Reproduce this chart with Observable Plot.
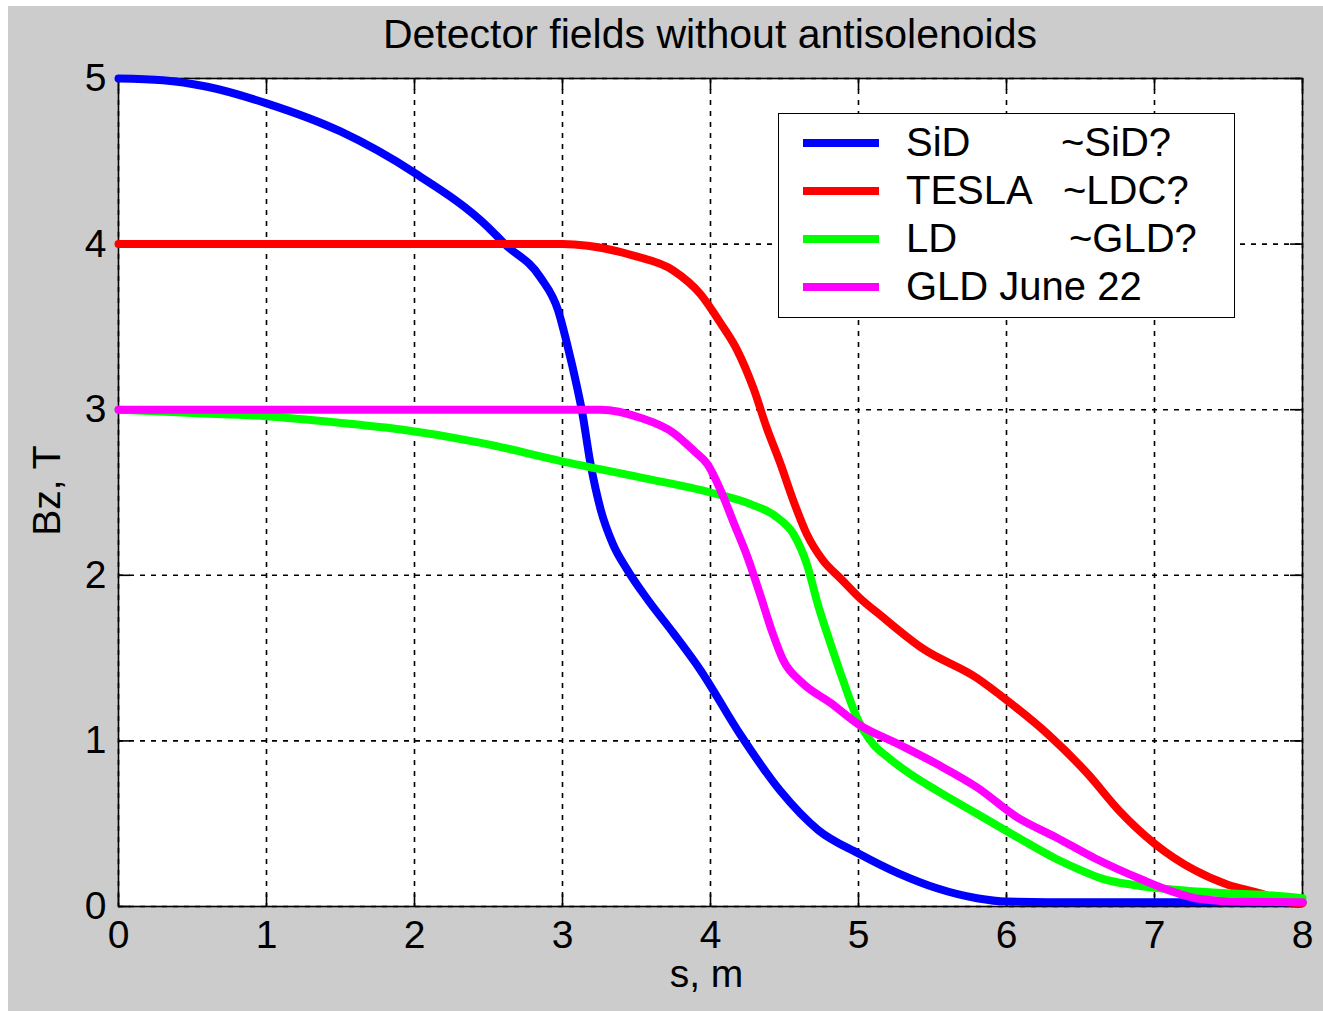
<!DOCTYPE html>
<html>
<head>
<meta charset="utf-8">
<script src="https://cdn.jsdelivr.net/npm/d3@7"></script>
<script src="https://cdn.jsdelivr.net/npm/@observablehq/plot@0.6"></script>
<style>
  body { margin: 0; background: #fff; font-family: "Liberation Sans", Arial, sans-serif; }
  #page { position: relative; width: 1323px; height: 1011px; overflow: hidden; background: #fff; }
  #bg { position: absolute; left: 8px; top: 6px; width: 1315px; height: 1005px; background: #cccccc; }
  #title { position: absolute; left: 118px; width: 1184px; top: 14px; text-align: center;
           font-size: 41px; line-height: 41px; color: #000; white-space: nowrap; }
  #chart { position: absolute; left: 0; top: 60px; }
  #legend { position: absolute; left: 778px; top: 113px; width: 455px; height: 203px;
            border: 1.5px solid #000; background: #fff; }
  .sw { position: absolute; left: 24px; width: 76px; height: 8px; }
  .lt { position: absolute; font-size: 40px; line-height: 40px; color: #000; white-space: nowrap; }
</style>
</head>
<body>
<div id="page">
  <div id="bg"></div>
  <div id="title"></div>
  <div id="chart"></div>
  <div id="legend"></div>
</div>
<script>
// ---- data ----
const titleText = "Detector fields without antisolenoids";
const xLabel = "s, m";
const yLabel = "Bz, T";
const xTicks = [0, 1, 2, 3, 4, 5, 6, 7, 8];
const yTicks = [0, 1, 2, 3, 4, 5];

const seriesNames = ["SiD", "TESLA", "LD", "GLD June 22"];
const seriesTags = ["~SiD?", "~LDC?", "~GLD?", ""];
const seriesColors = ["#0000ff", "#ff0000", "#00ff00", "#ff00ff"];

const sidS = [0, 0.3, 0.6, 1.0, 1.5, 2.0, 2.5, 2.61, 2.85, 2.97, 3.03, 3.10, 3.13, 3.19, 3.26, 3.34, 3.44, 3.57, 3.75, 3.93, 4.2, 4.47, 4.73, 5.0, 5.27, 5.53, 5.8, 6.0, 6.5, 7.0, 7.5, 8.0];
const sidB = [5.0, 4.99, 4.95, 4.85, 4.68, 4.43, 4.10, 4.0, 3.80, 3.6, 3.40, 3.13, 3.0, 2.67, 2.39, 2.19, 2.03, 1.86, 1.65, 1.43, 1.04, 0.70, 0.46, 0.32, 0.20, 0.11, 0.05, 0.03, 0.025, 0.025, 0.025, 0.025];

const teslaS = [0, 1, 2, 2.5, 3.0, 3.17, 3.48, 3.75, 3.93, 4.07, 4.18, 4.29, 4.38, 4.47, 4.56, 4.65, 4.76, 4.88, 5.0, 5.16, 5.43, 5.80, 6.01, 6.28, 6.55, 6.76, 7.0, 7.27, 7.5, 7.72, 7.87, 8.0];
const teslaB = [4.0, 4.0, 4.0, 4.0, 4.0, 3.99, 3.93, 3.84, 3.70, 3.52, 3.36, 3.13, 2.89, 2.68, 2.45, 2.25, 2.09, 1.98, 1.87, 1.75, 1.56, 1.38, 1.24, 1.04, 0.80, 0.58, 0.38, 0.22, 0.13, 0.078, 0.03, 0.02];

const ldS = [0, 0.5, 1.0, 1.5, 1.91, 2.45, 2.99, 3.53, 4.0, 4.27, 4.45, 4.56, 4.65, 4.73, 4.81, 4.89, 5.0, 5.1, 5.2, 5.35, 5.53, 5.80, 6.07, 6.33, 6.5, 6.64, 6.86, 7.20, 7.53, 7.80, 8.0];
const ldB = [3.0, 2.98, 2.96, 2.92, 2.88, 2.80, 2.69, 2.59, 2.50, 2.43, 2.35, 2.25, 2.07, 1.81, 1.59, 1.38, 1.12, 0.98, 0.90, 0.80, 0.70, 0.56, 0.42, 0.29, 0.22, 0.17, 0.13, 0.097, 0.078, 0.066, 0.05];

const gldS = [0, 1, 2, 2.58, 3.26, 3.53, 3.75, 3.89, 3.98, 4.07, 4.16, 4.25, 4.34, 4.42, 4.49, 4.62, 4.81, 5.0, 5.27, 5.53, 5.80, 6.07, 6.33, 6.60, 6.93, 7.09, 7.31, 7.6, 8.0];
const gldB = [3.0, 3.0, 3.0, 3.0, 3.0, 2.95, 2.86, 2.75, 2.67, 2.51, 2.31, 2.11, 1.87, 1.65, 1.49, 1.35, 1.23, 1.10, 0.98, 0.86, 0.72, 0.54, 0.42, 0.29, 0.157, 0.10, 0.045, 0.028, 0.025];

// ---- build ----
const toRows = (s, b) => s.map((v, i) => ({s: v, B: b[i]}));
const series = [toRows(sidS, sidB), toRows(teslaS, teslaB), toRows(ldS, ldB), toRows(gldS, gldB)];

document.getElementById("title").textContent = titleText;

const W = 1323, H = 951;
const mL = 118, mR = 21, mT = 18, mB = 105;
const plotW = W - mL - mR, plotH = H - mT - mB;
const tickLen = 12;
const gridStyle = {stroke: "#000", strokeOpacity: 1, strokeWidth: 1.6, strokeDasharray: "5,6"};
const tickStyle = {stroke: "#000", strokeWidth: 1.6};
const fmt = d => String(d);

const chart = Plot.plot({
  width: W, height: H,
  marginLeft: mL, marginRight: mR, marginTop: mT, marginBottom: mB,
  style: {background: "transparent", fontFamily: "'Liberation Sans', Arial, sans-serif", fontSize: "39px", color: "#000", overflow: "visible"},
  x: {domain: [0, 8]},
  y: {domain: [0, 5]},
  marks: [
    Plot.frame({fill: "#fff"}),
    Plot.gridX(xTicks, gridStyle),
    Plot.gridY(yTicks, gridStyle),
    Plot.ruleX(xTicks, {x: d => d, insetTop: plotH - tickLen, ...tickStyle}),
    Plot.ruleX(xTicks, {x: d => d, insetBottom: plotH - tickLen, ...tickStyle}),
    Plot.ruleY(yTicks, {y: d => d, insetRight: plotW - tickLen, ...tickStyle}),
    Plot.ruleY(yTicks, {y: d => d, insetLeft: plotW - tickLen, ...tickStyle}),
    Plot.frame({stroke: "#000", strokeWidth: 1.6}),
    Plot.axisX(xTicks, {tickSize: 0, tickPadding: 14, label: null, fontSize: 39, tickFormat: fmt}),
    Plot.axisY(yTicks, {tickSize: 0, tickPadding: 12, label: null, fontSize: 39, tickFormat: fmt}),
    ...series.map((rows, i) => Plot.line(rows, {x: "s", y: "B", stroke: seriesColors[i], strokeWidth: 8, curve: "monotone-x", strokeLinejoin: "round"})),
    Plot.text([xLabel], {text: d => d, frameAnchor: "bottom", dy: 80, dx: -4, fontSize: 39}),
    Plot.text([yLabel], {text: d => d, frameAnchor: "left", textAnchor: "middle", rotate: -90, dx: -71, dy: -2, fontSize: 39})
  ]
});
document.getElementById("chart").appendChild(chart);

// legend
const legend = document.getElementById("legend");
const rowCenters = [28.5, 76.5, 124.5, 172.5];
const tagLeft = [282, 284, 290, 0];
seriesNames.forEach((name, i) => {
  const sw = document.createElement("div");
  sw.className = "sw";
  sw.style.top = (rowCenters[i] - 4) + "px";
  sw.style.background = seriesColors[i];
  legend.appendChild(sw);
  const t = document.createElement("div");
  t.className = "lt";
  t.style.left = "127px";
  t.style.top = (rowCenters[i] - 21) + "px";
  t.textContent = name;
  legend.appendChild(t);
  if (seriesTags[i]) {
    const t2 = document.createElement("div");
    t2.className = "lt";
    t2.style.left = tagLeft[i] + "px";
    t2.style.top = (rowCenters[i] - 21) + "px";
    t2.textContent = seriesTags[i];
    legend.appendChild(t2);
  }
});
</script>
</body>
</html>
